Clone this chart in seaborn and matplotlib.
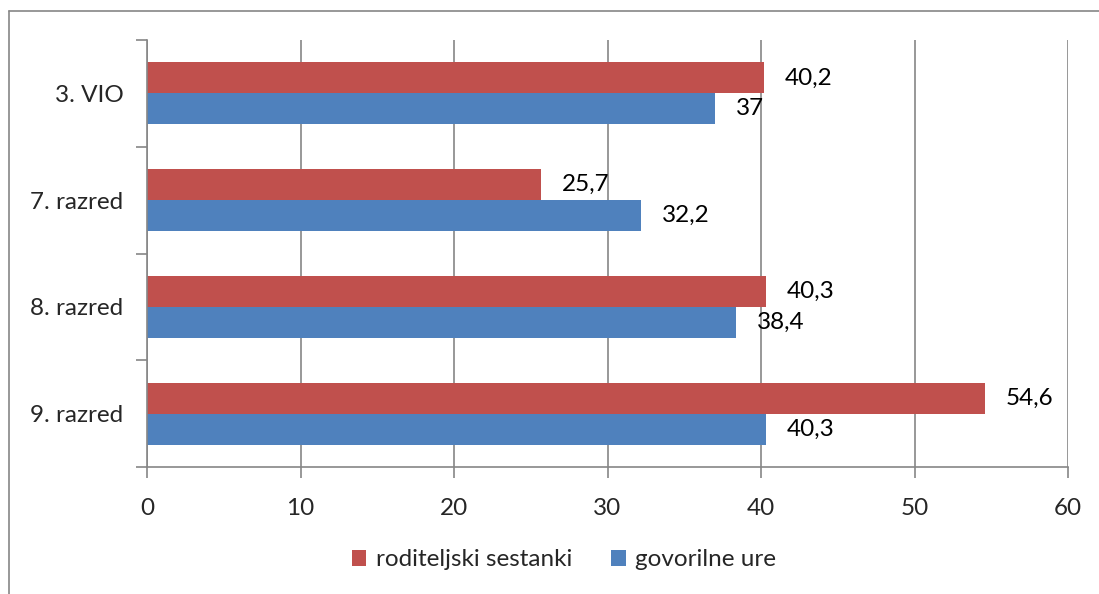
import pandas as pd
import numpy as np
import matplotlib
matplotlib.use("Agg")
import matplotlib.pyplot as plt
import seaborn as sns
from matplotlib.lines import Line2D

categories = ["3. VIO", "7. razred", "8. razred", "9. razred"]
series = ["roditeljski sestanki", "govorilne ure"]
roditeljski = [40.2, 25.7, 40.3, 54.6]
govorilne = [37, 32.2, 38.4, 40.3]
labels_rod = ["40,2", "25,7", "40,3", "54,6"]
labels_gov = ["37", "32,2", "38,4", "40,3"]
colors = ["#C0504D", "#4F81BD"]

df = pd.DataFrame({
    "category": categories * 2,
    "series": [series[0]] * 4 + [series[1]] * 4,
    "value": roditeljski + govorilne,
})

sns.set_theme(style="white")
plt.rcParams["font.family"] = ["Lato", "DejaVu Sans"]
fs = 17.5

fig = plt.figure(figsize=(10.99, 5.94), dpi=100)
ax = fig.add_axes([147 / 1099, 1 - 467 / 594, (1068 - 147) / 1099, (467 - 40) / 594])

sns.barplot(data=df, y="category", x="value", hue="series", order=categories,
            hue_order=series, palette=colors, orient="h", width=0.58,
            saturation=1, ax=ax, legend=True, linewidth=0)

# data labels
for cont, labs in zip(ax.containers, [labels_rod, labels_gov]):
    ax.bar_label(cont, labels=labs, padding=15, fontsize=fs, color="black")

ax.set_xlim(0, 60)
ax.set_ylim(3.5, -0.5)
ax.set_xticks(np.arange(0, 61, 10))
ax.set_xlabel("")
ax.set_ylabel("")
ax.grid(axis="x", color="#868686", linewidth=1.2)
ax.set_axisbelow(True)

for s in ["top", "right"]:
    ax.spines[s].set_visible(False)
for s in ["left", "bottom"]:
    ax.spines[s].set_color("#868686")
    ax.spines[s].set_linewidth(1.2)

ax.set_yticks(np.arange(-0.5, 4, 1), minor=True)
ax.tick_params(axis="y", which="major", length=0, pad=17, labelsize=fs)
ax.tick_params(axis="y", which="minor", length=8, color="#868686", width=1.2, left=True)
ax.tick_params(axis="x", which="major", length=8, color="#868686", width=1.2,
               bottom=True, labelsize=fs, pad=14)

leg = ax.legend(loc="center", bbox_to_anchor=(564 / 1099, (594 - 560) / 594), bbox_transform=fig.transFigure,
                ncol=2, frameon=False, fontsize=fs, handlelength=0.6, handleheight=0.6,
                handletextpad=0.4, columnspacing=1.6)

# chart area border (only left and top edges visible in the crop)
fig.add_artist(Line2D([9 / 1099, 9 / 1099], [0, 1 - 11 / 594], transform=fig.transFigure,
                      color="#868686", linewidth=1.2))
fig.add_artist(Line2D([9 / 1099, 1], [1 - 11 / 594, 1 - 11 / 594], transform=fig.transFigure,
                      color="#868686", linewidth=1.2))

fig.savefig("out.png", dpi=100)
